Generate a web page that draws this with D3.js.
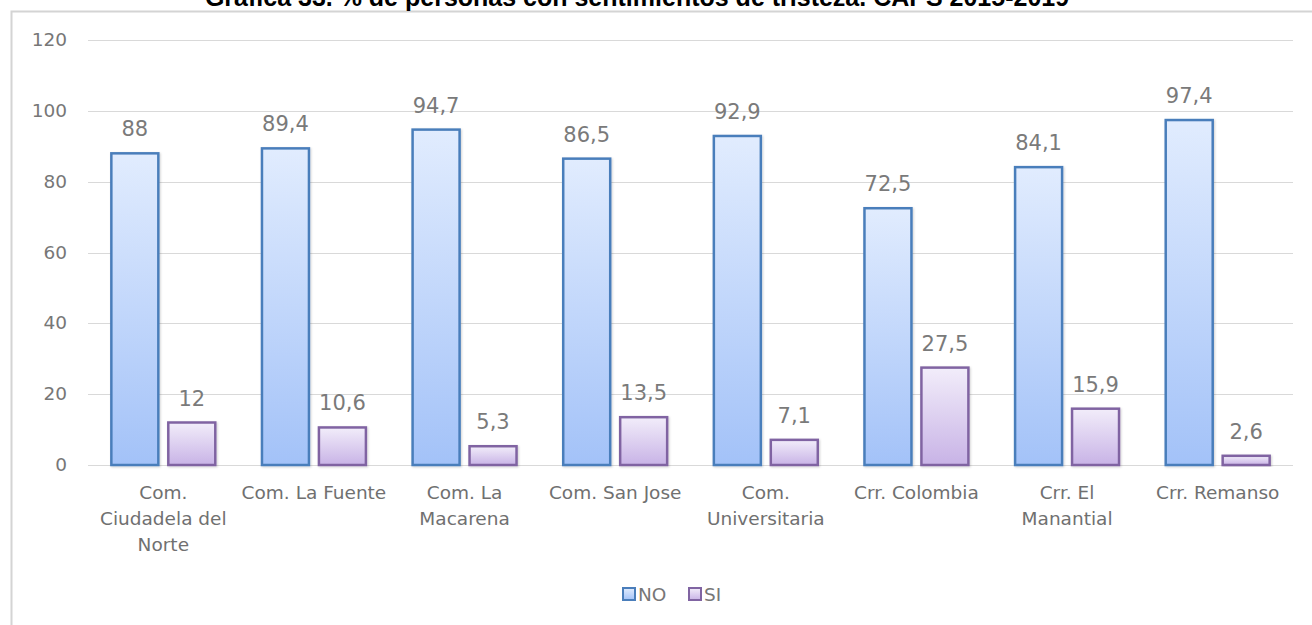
<!DOCTYPE html>
<html><head><meta charset="utf-8">
<script src="https://cdn.jsdelivr.net/npm/d3@7"></script>
<style>
html,body{margin:0;padding:0;background:#fff;}
svg{display:block;}
</style></head>
<body>
<svg id="chart" width="1312" height="625"></svg>
<script>
const title = "Gráfica 33. % de personas con sentimientos de tristeza. CAPS 2015-2019";
const categories = ["Com. Ciudadela del Norte","Com. La Fuente","Com. La Macarena","Com. San Jose","Com. Universitaria","Crr. Colombia","Crr. El Manantial","Crr. Remanso"];
const categoryLines = [["Com.","Ciudadela del","Norte"],["Com. La Fuente"],["Com. La","Macarena"],["Com. San Jose"],["Com.","Universitaria"],["Crr. Colombia"],["Crr. El","Manantial"],["Crr. Remanso"]];
const seriesNames = ["NO","SI"];
const valuesNO = [88, 89.4, 94.7, 86.5, 92.9, 72.5, 84.1, 97.4];
const valuesSI = [12, 10.6, 5.3, 13.5, 7.1, 27.5, 15.9, 2.6];
const yTicks = [0, 20, 40, 60, 80, 100, 120];

const data = categories.map((c,i)=>({cat:c, lines:categoryLines[i], vals:[{s:"NO",v:valuesNO[i]},{s:"SI",v:valuesSI[i]}]}));

const svg = d3.select("#chart");
const font = "'DejaVu Sans', sans-serif";
const plotLeft = 88, plotRight = 1293, plotTop = 40, plotBottom = 465;

const loc = d3.formatLocale({decimal:",", thousands:".", grouping:[3], currency:["",""]});
const fmt = v => Number.isInteger(v) ? String(v) : loc.format(".1f")(v);

// frame
svg.append("rect").attr("x",11.5).attr("y",11.5).attr("width",1400).attr("height",700)
  .attr("fill","#fff").attr("stroke","#d4d4d4").attr("stroke-width",2);

// title (cut off at the top edge, as in the reference)
svg.append("text").attr("x",637).attr("y",6).attr("text-anchor","middle")
  .attr("font-family","'Liberation Sans', Arial, sans-serif").attr("font-weight","bold")
  .attr("font-size",25).attr("fill","#000").text(title);

const defs = svg.append("defs");
const grads = {NO:["#e1ecfe","#a3c2f8"], SI:["#f2edfa","#c8b3e6"]};
const strokes = {NO:"#4a7ebb", SI:"#8064a2"};
for (const k of seriesNames){
  const g = defs.append("linearGradient").attr("id","g"+k).attr("x1",0).attr("y1",0).attr("x2",0).attr("y2",1);
  g.append("stop").attr("offset","0%").attr("stop-color",grads[k][0]);
  g.append("stop").attr("offset","100%").attr("stop-color",grads[k][1]);
}
const shadow = defs.append("filter").attr("id","sh").attr("x","-20%").attr("y","-20%").attr("width","140%").attr("height","140%");
shadow.append("feDropShadow").attr("dx",1).attr("dy",1).attr("stdDeviation",1.2).attr("flood-color","#000").attr("flood-opacity",0.18);

const y = d3.scaleLinear().domain([0,120]).range([plotBottom, plotTop]);
const x0 = d3.scaleBand().domain(categories).range([plotLeft, plotRight]).paddingInner(0.31).paddingOuter(0.155);
const x1 = d3.scaleBand().domain(seriesNames).range([0, x0.bandwidth()]).paddingInner(0.175);

// grid
svg.append("g").selectAll("line").data(yTicks).join("line")
  .attr("x1",plotLeft).attr("x2",plotRight).attr("y1",d=>Math.round(y(d))+0.5).attr("y2",d=>Math.round(y(d))+0.5)
  .attr("stroke","#d9d9d9").attr("stroke-width",1);

// y tick labels
svg.append("g").selectAll("text").data(yTicks).join("text")
  .attr("x",67).attr("y",d=>y(d)+6).attr("text-anchor","end")
  .attr("font-family",font).attr("font-size",18.5).attr("fill","#777").text(d=>d);

// bars
const groups = svg.append("g").selectAll("g").data(data).join("g")
  .attr("transform",d=>`translate(${x0(d.cat)},0)`);
groups.selectAll("rect").data(d=>d.vals).join("rect")
  .attr("x",d=>x1(d.s)).attr("y",d=>y(d.v)).attr("width",x1.bandwidth()).attr("height",d=>y(0)-y(d.v))
  .attr("fill",d=>`url(#g${d.s})`).attr("stroke",d=>strokes[d.s]).attr("stroke-width",2.5)
  .attr("filter","url(#sh)");
groups.selectAll("text.val").data(d=>d.vals).join("text").attr("class","val")
  .attr("x",d=>x1(d.s)+x1.bandwidth()/2).attr("y",d=>y(d.v)-17).attr("text-anchor","middle")
  .attr("font-family",font).attr("font-size",21).attr("fill","#7a7a7a").text(d=>fmt(d.v));

// category labels
const cl = svg.append("g").selectAll("text").data(data).join("text")
  .attr("x",d=>x0(d.cat)+x0.bandwidth()/2).attr("y",499).attr("text-anchor","middle")
  .attr("font-family",font).attr("font-size",18.5).attr("fill","#707070");
cl.selectAll("tspan").data(d=>d.lines.map(l=>({l, x:x0(d.cat)+x0.bandwidth()/2}))).join("tspan")
  .attr("x",d=>d.x).attr("dy",(d,i)=>i===0?0:26).text(d=>d.l);

// legend
const leg = svg.append("g");
const legItems = [{s:"NO",x:622},{s:"SI",x:688}];
leg.selectAll("rect").data(legItems).join("rect")
  .attr("x",d=>d.x+1).attr("y",588).attr("width",12).attr("height",12)
  .attr("fill",d=>`url(#g${d.s})`).attr("stroke",d=>strokes[d.s]).attr("stroke-width",2);
leg.selectAll("text").data(legItems).join("text")
  .attr("x",d=>d.x+16).attr("y",601)
  .attr("font-family",font).attr("font-size",18.5).attr("fill","#777").text(d=>d.s);
</script>
</body></html>
